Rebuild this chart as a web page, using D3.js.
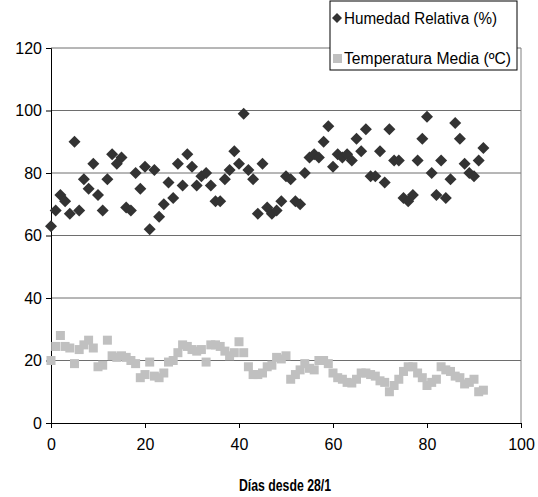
<!DOCTYPE html>
<html>
<head>
<meta charset="utf-8">
<script src="https://cdn.jsdelivr.net/npm/d3@7.9.0/dist/d3.min.js"></script>
<style>
  body { margin: 0; background: #fff; }
  text { font-family: "Liberation Sans", Arial, sans-serif; }
</style>
</head>
<body>
<svg id="chart" width="538" height="497"></svg>
<script>
// Humedad relativa (%) por día, desde el día 0
const humedad = [63, 68, 73, 71, 67, 90, 68, 78, 75, 83, 73, 68, 78, 86, 83, 85, 69, 68, 80, 75,
  82, 62, 81, 66, 70, 77, 72, 83, 76, 86, 82, 76, 79, 80, 76, 71, 71, 78, 81, 87,
  83, 99, 81, 78, 67, 83, 69, 67, 68, 71, 79, 78, 71, 70, 80, 85, 86, 85, 90, 95,
  82, 86, 85, 86, 84, 91, 87, 94, 79, 79, 87, 77, 94, 84, 84, 72, 71, 73, 84, 91,
  98, 80, 73, 84, 72, 78, 96, 91, 83, 80, 79, 84, 88];

// Temperatura media (ºC) por día
const temperatura = [20, 24.5, 28, 24.5, 24, 19, 23.5, 25, 26.5, 24, 18, 18.5, 26.5, 21.5, 21, 21.5, 21, 20, 19, 14.5,
  15.5, 19.5, 15, 14.5, 16, 19.5, 20, 22.5, 25, 24.5, 23.5, 23, 23.5, 19.5, 25, 25, 24.5, 23, 21.5, 22.5,
  26, 22.5, 18, 15.5, 15.5, 16, 18, 18.5, 21, 20.5, 21.5, 14, 15.5, 17, 19, 17.5, 17, 20, 20, 19,
  16, 14.5, 14, 13, 12.8, 14, 16, 16, 15.5, 15, 13.5, 13, 10, 12, 14, 16.5, 18, 18, 16, 14.5,
  12, 13, 14, 18, 17, 16.5, 15, 14.5, 12.5, 13, 14, 10, 10.5];

const yTicks = [0, 20, 40, 60, 80, 100, 120];
const xTicks = [0, 20, 40, 60, 80, 100];
const xTitle = 'Días desde 28/1';
const seriesNames = ['Humedad Relativa (%)', 'Temperatura Media (ºC)'];

const svg = d3.select('#chart');
const plotL = 51, plotR = 521, plotT = 48, plotB = 423;

const x = d3.scaleLinear().domain([0, 100]).range([plotL, plotR]);
const y = d3.scaleLinear().domain([0, 120]).range([plotB, plotT]);

// grid
svg.append('g').selectAll('line').data(yTicks.filter(d => d > 0)).join('line')
  .attr('x1', plotL).attr('x2', plotR)
  .attr('y1', d => y(d)).attr('y2', d => y(d))
  .attr('stroke', '#6e6e6e').attr('stroke-width', 1);

// right border of plot
svg.append('line').attr('x1', plotR).attr('x2', plotR).attr('y1', plotT).attr('y2', plotB)
  .attr('stroke', '#808080');

// axes
const yAxis = svg.append('g').attr('transform', `translate(${plotL},0)`)
  .call(d3.axisLeft(y).tickValues(yTicks).tickSize(5).tickPadding(4).tickFormat(d3.format('d')));
const xAxis = svg.append('g').attr('transform', `translate(0,${plotB})`)
  .call(d3.axisBottom(x).tickValues(xTicks).tickSize(5).tickPadding(11).tickFormat(d3.format('d')));
[yAxis, xAxis].forEach(a => {
  a.select('.domain').attr('stroke', '#000');
  a.selectAll('.tick line').attr('stroke', '#000');
  a.selectAll('.tick text').attr('font-size', 16).attr('fill', '#000')
    .attr('font-family', '"Liberation Sans", Arial, sans-serif');
});

// temperatura: cuadrados grises
const sq = 9;
svg.append('g').selectAll('rect').data(temperatura).join('rect')
  .attr('x', (d, i) => x(i) - sq / 2)
  .attr('y', d => y(d) - sq / 2)
  .attr('width', sq).attr('height', sq)
  .attr('fill', '#c0c0c0');

// humedad: rombos oscuros
const r = 6;
const diamond = `M0,${-r}L${r},0L0,${r}L${-r},0Z`;
svg.append('g').selectAll('path').data(humedad).join('path')
  .attr('d', diamond)
  .attr('transform', (d, i) => `translate(${x(i)},${y(d)})`)
  .attr('fill', '#333333');

// x title
svg.append('text').attr('x', 285).attr('y', 491)
  .attr('text-anchor', 'middle').attr('font-weight', 'bold').attr('font-size', 16)
  .attr('textLength', 92).attr('lengthAdjust', 'spacingAndGlyphs')
  .text(xTitle);

// legend
const lg = svg.append('g');
lg.append('rect').attr('x', 330).attr('y', 1).attr('width', 187).attr('height', 69)
  .attr('fill', '#fff').attr('stroke', '#000').attr('stroke-width', 1);
lg.append('path').attr('d', `M0,-5L5,0L0,5L-5,0Z`).attr('transform', 'translate(337,18)').attr('fill', '#333');
lg.append('rect').attr('x', 333).attr('y', 54).attr('width', 9).attr('height', 9).attr('fill', '#c0c0c0');
lg.selectAll('text.lbl').data(seriesNames).join('text')
  .attr('class', 'lbl')
  .attr('x', 344).attr('y', (d, i) => 24 + i * 40)
  .attr('font-size', 16).attr('fill', '#000')
  .attr('textLength', (d, i) => i === 0 ? 153 : 167).attr('lengthAdjust', 'spacingAndGlyphs')
  .text(d => d);
</script>
</body>
</html>
